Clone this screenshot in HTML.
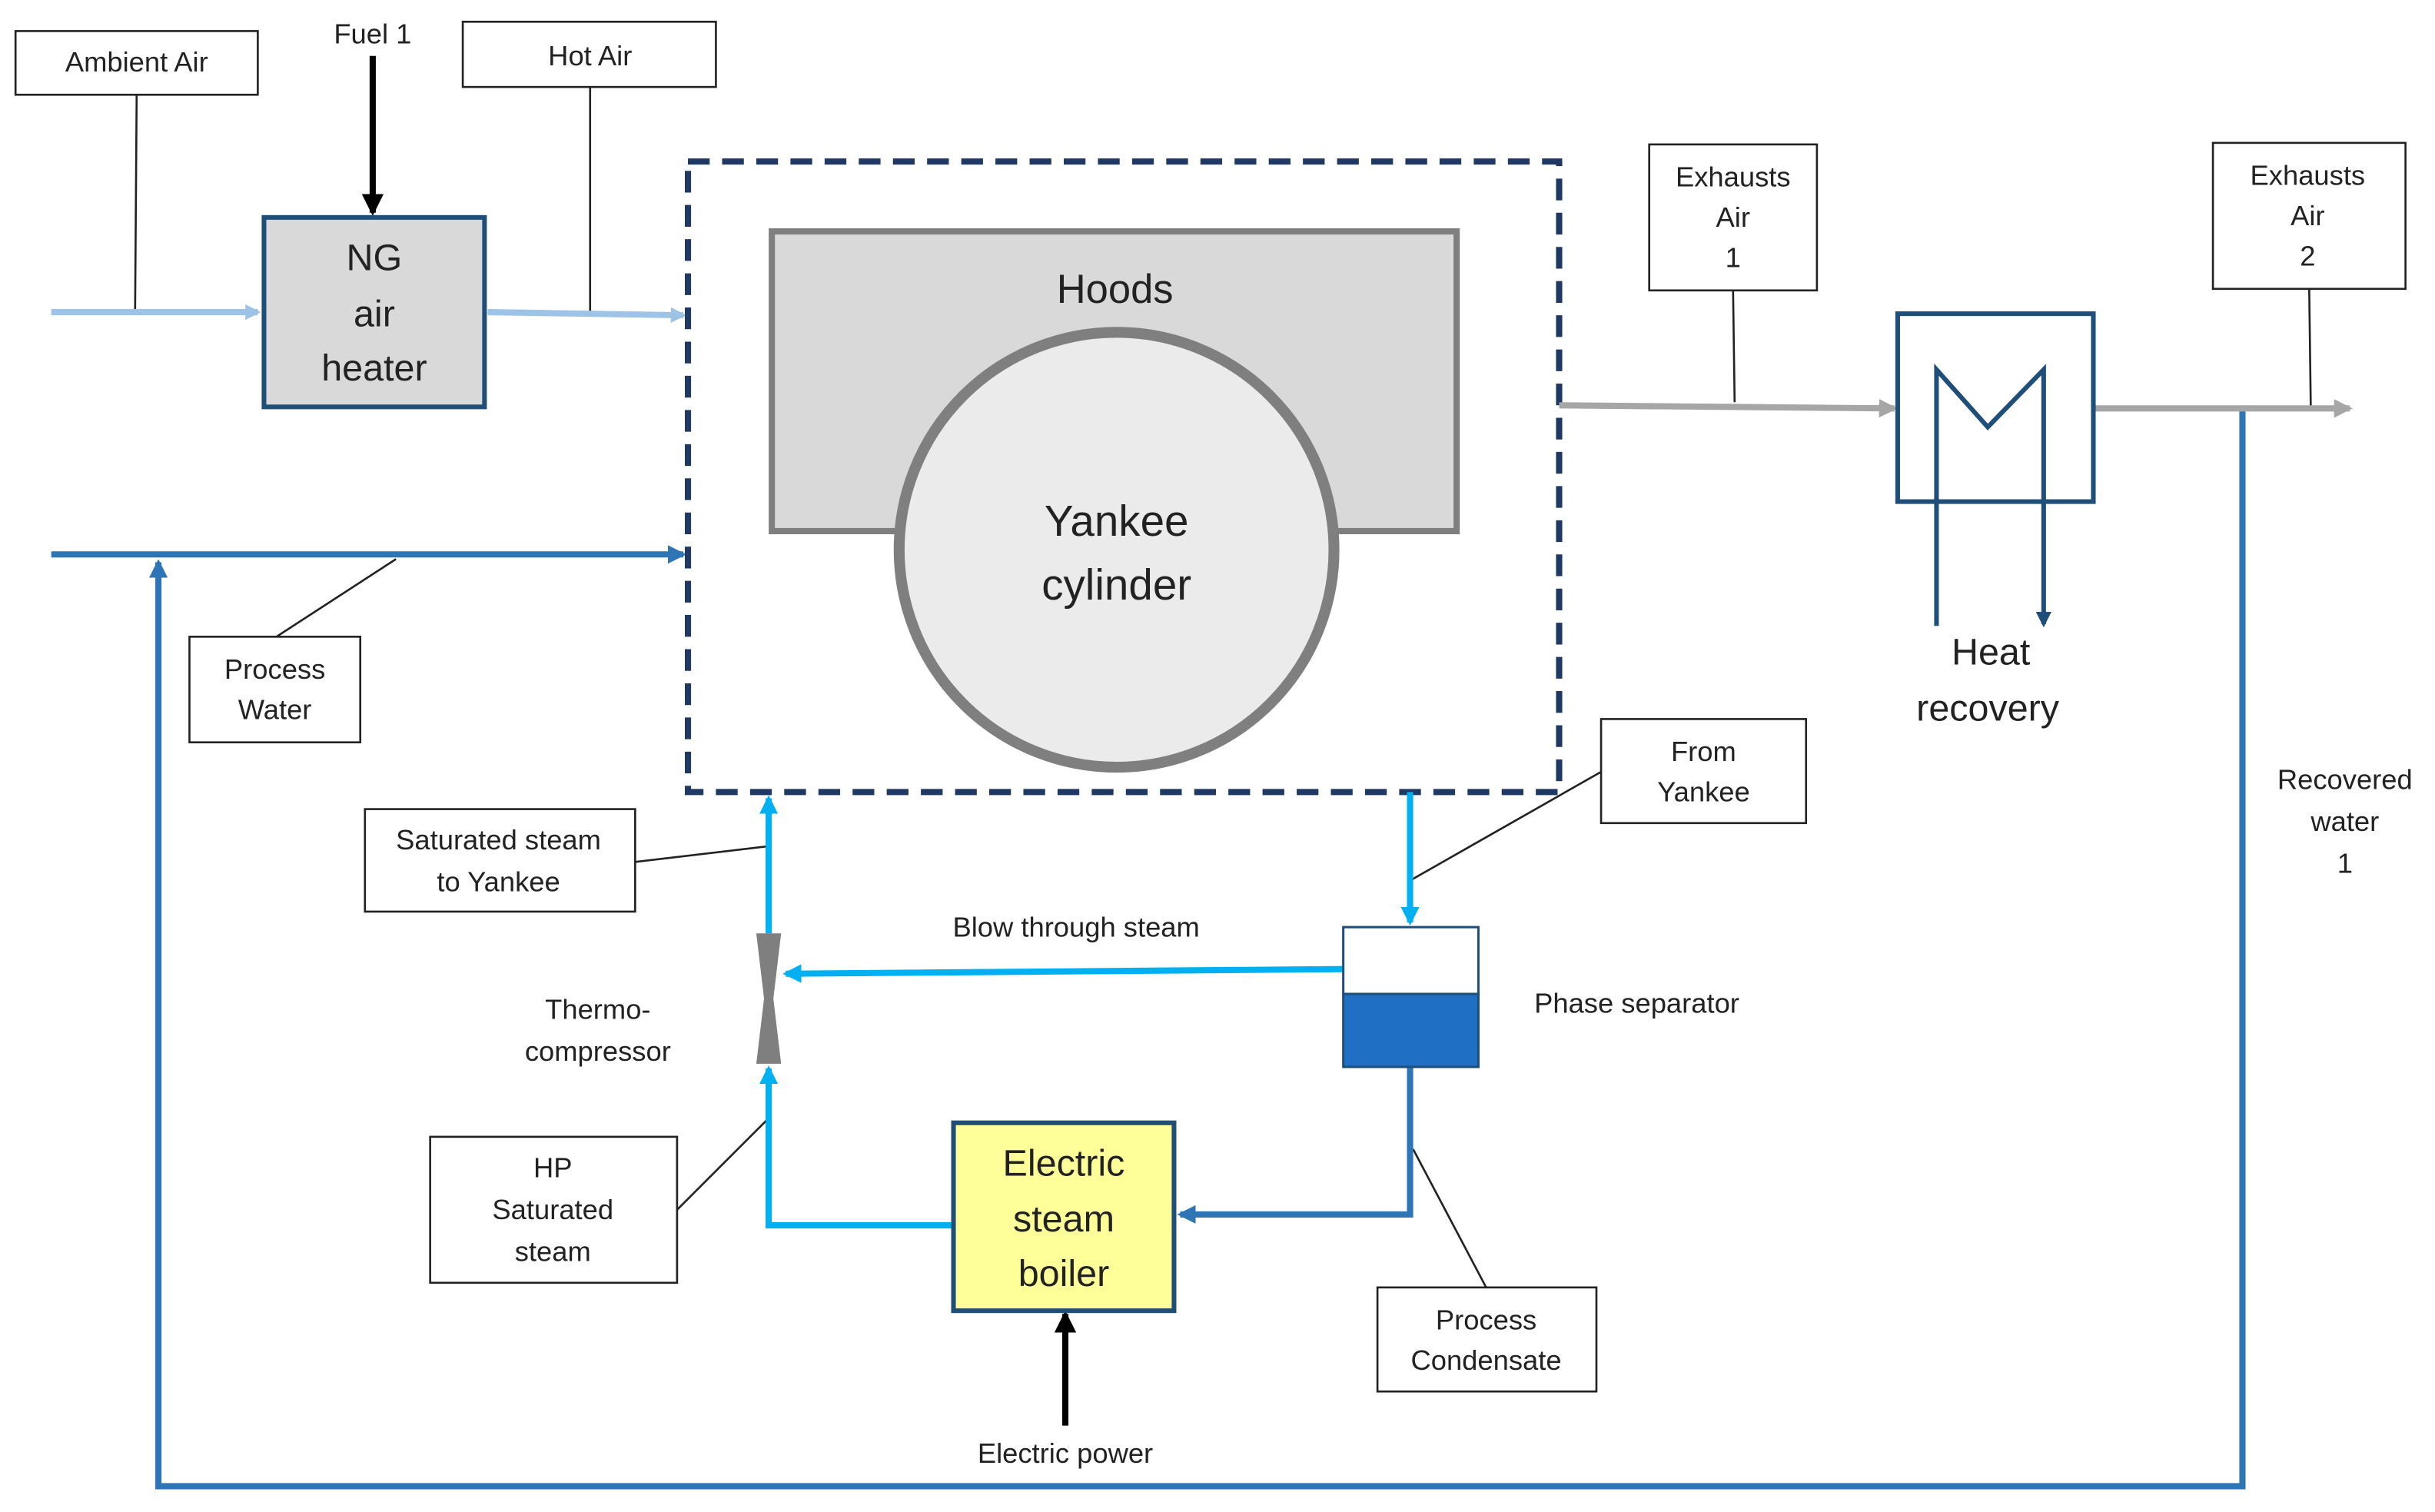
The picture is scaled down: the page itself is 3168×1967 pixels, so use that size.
<!DOCTYPE html>
<html><head><meta charset="utf-8"><style>
html,body{margin:0;padding:0;background:#fff}
svg{display:block}
text{font-family:"Liberation Sans",sans-serif;fill:#222}
</style></head><body>
<svg width="3168" height="1967" viewBox="0 0 1568 973.6" preserveAspectRatio="none" xmlns="http://www.w3.org/2000/svg">
<defs>
<marker id="aL" markerWidth="10" markerHeight="10" refX="8" refY="5" orient="auto" markerUnits="userSpaceOnUse"><path d="M0,0 L10,5 L0,10 z" fill="#9dc3e6"/></marker>
<marker id="aB" markerWidth="12" markerHeight="12" refX="10" refY="6" orient="auto" markerUnits="userSpaceOnUse"><path d="M0,0 L12,6 L0,12 z" fill="#2e75b6"/></marker>
<marker id="aC" markerWidth="12" markerHeight="12" refX="10" refY="6" orient="auto" markerUnits="userSpaceOnUse"><path d="M0,0 L12,6 L0,12 z" fill="#00b0f0"/></marker>
<marker id="aG" markerWidth="12" markerHeight="12" refX="10" refY="6" orient="auto" markerUnits="userSpaceOnUse"><path d="M0,0 L12,6 L0,12 z" fill="#a6a6a6"/></marker>
<marker id="aK" markerWidth="14" markerHeight="14" refX="12" refY="7" orient="auto" markerUnits="userSpaceOnUse"><path d="M0,0 L14,7 L0,14 z" fill="#000"/></marker>
<marker id="aN" markerWidth="10" markerHeight="10" refX="8" refY="5" orient="auto" markerUnits="userSpaceOnUse"><path d="M0,0 L10,5 L0,10 z" fill="#1f4e79"/></marker>
</defs>
<g fill="none" stroke="#222" stroke-width="1.3">
<rect x="10" y="20" width="156" height="41" fill="#fff"/>
<rect x="298" y="14" width="163" height="42" fill="#fff"/>
<rect x="1062" y="93" width="108" height="94" fill="#fff"/>
<rect x="1425" y="92" width="124" height="94" fill="#fff"/>
<rect x="122" y="410" width="110" height="68" fill="#fff"/>
<rect x="1031" y="463" width="132" height="67" fill="#fff"/>
<rect x="235" y="521" width="174" height="66" fill="#fff"/>
<rect x="277" y="732" width="159" height="94" fill="#fff"/>
<rect x="887" y="829" width="141" height="67" fill="#fff"/>
<path d="M88,61 L87,200 M380,56 L380,202 M178,410 L255,360 M1116,187 L1117,259 M1487,186 L1488,262 M1031,497 L908,567 M409,555 L494,545 M436,779 L495,720 M957,829 L910,740"/>
</g>
<g stroke="#9dc3e6" stroke-width="4" fill="none">
<path d="M33,201 L166,201" marker-end="url(#aL)"/>
<path d="M314,201 L440,203" marker-end="url(#aL)"/>
</g>
<path d="M240,36 L240,137" stroke="#000" stroke-width="4" marker-end="url(#aK)"/>
<path d="M686,918 L686,846" stroke="#000" stroke-width="4" marker-end="url(#aK)"/>
<rect x="170" y="140" width="142" height="122" fill="#d9d9d9" stroke="#1f4e79" stroke-width="3"/>
<g font-size="24" text-anchor="middle"><text x="241" y="174">NG</text><text x="241" y="210">air</text><text x="241" y="245">heater</text></g>
<g stroke="#2e75b6" stroke-width="4" fill="none">
<path d="M33,357 L440,357" marker-end="url(#aB)"/>
<path d="M1444,263 L1444,957 L102,957 L102,362" marker-end="url(#aB)"/>
<path d="M908,687 L908,782 L760,782" marker-end="url(#aB)"/>
</g>
<rect x="443" y="104" width="561" height="406" fill="none" stroke="#1f3864" stroke-width="4" stroke-dasharray="14 8"/>
<rect x="497" y="149" width="441" height="193" fill="#d9d9d9" stroke="#7f7f7f" stroke-width="4"/>
<text x="718" y="195" font-size="26" text-anchor="middle">Hoods</text>
<circle cx="719" cy="354" r="140" fill="#ebebeb" stroke="#7f7f7f" stroke-width="7"/>
<g font-size="28" text-anchor="middle"><text x="719" y="345">Yankee</text><text x="719" y="386">cylinder</text></g>
<g stroke="#a6a6a6" stroke-width="4" fill="none">
<path d="M1004,261 L1220,263" marker-end="url(#aG)"/>
<path d="M1348,263 L1513,263" marker-end="url(#aG)"/>
</g>
<rect x="1222" y="202" width="126" height="121" fill="none" stroke="#1f4e79" stroke-width="3"/>
<path d="M1247,403 L1247,238 L1280,275 L1316,238 L1316,402" fill="none" stroke="#1f4e79" stroke-width="3" marker-end="url(#aN)"/>
<g font-size="24" text-anchor="middle"><text x="1282" y="428">Heat</text><text x="1280" y="464">recovery</text></g>
<g stroke="#00b0f0" stroke-width="4" fill="none">
<path d="M908,510 L908,594" marker-end="url(#aC)"/>
<path d="M865,624 L506,627" marker-end="url(#aC)"/>
<path d="M495,601 L495,514" marker-end="url(#aC)"/>
<path d="M614,789 L495,789 L495,688" marker-end="url(#aC)"/>
</g>
<path d="M487,601 L503,601 L498,643 L503,685 L487,685 L492,643 z" fill="#7f7f7f"/>
<rect x="865" y="597" width="87" height="43" fill="#fff" stroke="#1f4e79" stroke-width="1.5"/>
<rect x="865" y="640" width="87" height="47" fill="#1f6fc5" stroke="#1f4e79" stroke-width="1.5"/>
<rect x="614" y="723" width="142" height="121" fill="#ffff99" stroke="#1f4e79" stroke-width="3"/>
<g font-size="24" text-anchor="middle"><text x="685" y="757">Electric</text><text x="685" y="793">steam</text><text x="685" y="828">boiler</text></g>
<g font-size="18" text-anchor="middle">
<text x="88" y="46">Ambient Air</text>
<text x="240" y="28">Fuel 1</text>
<text x="380" y="42">Hot Air</text>
<text x="1116" y="120">Exhausts</text><text x="1116" y="146">Air</text><text x="1116" y="172">1</text>
<text x="1486" y="119">Exhausts</text><text x="1486" y="145">Air</text><text x="1486" y="171">2</text>
<text x="177" y="437">Process</text><text x="177" y="463">Water</text>
<text x="1097" y="490">From</text><text x="1097" y="516">Yankee</text>
<text x="1510" y="508">Recovered</text><text x="1510" y="535">water</text><text x="1510" y="562">1</text>
<text x="321" y="547">Saturated steam</text><text x="321" y="574">to Yankee</text>
<text x="693" y="603">Blow through steam</text>
<text x="1054" y="652">Phase separator</text>
<text x="385" y="656">Thermo-</text><text x="385" y="683">compressor</text>
<text x="356" y="758">HP</text><text x="356" y="785">Saturated</text><text x="356" y="812">steam</text>
<text x="957" y="856">Process</text><text x="957" y="882">Condensate</text>
<text x="686" y="942">Electric power</text>
</g>
</svg>
</body></html>
